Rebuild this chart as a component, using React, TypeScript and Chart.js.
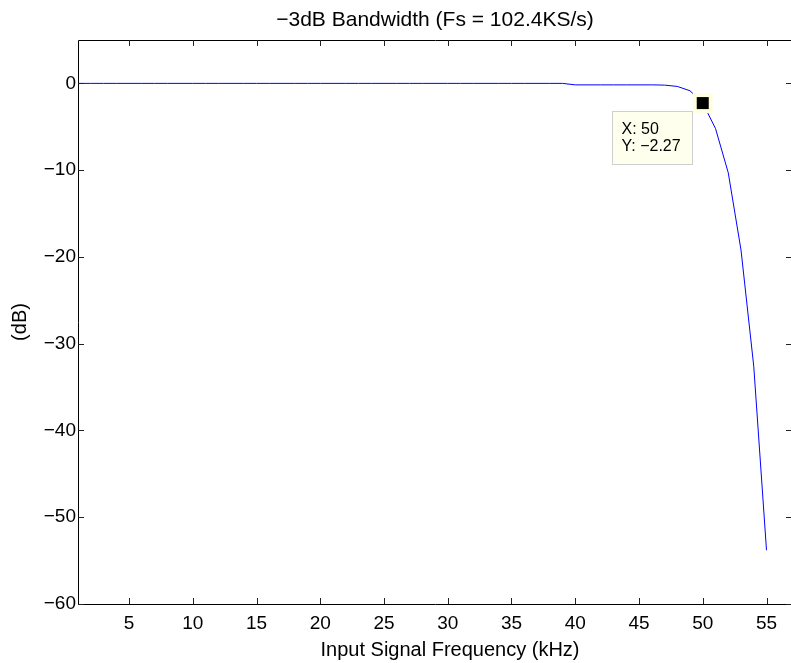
import React, { useEffect, useRef } from "react";
import { Chart, registerables } from "chart.js";

Chart.register(...registerables);

const FREQ_KHZ = [
  1, 2, 3, 4, 5, 6, 7, 8, 9, 10, 11, 12, 13, 14, 15, 16, 17, 18, 19, 20,
  21, 22, 23, 24, 25, 26, 27, 28, 29, 30, 31, 32, 33, 34, 35, 36, 37, 38, 39, 40,
  41, 42, 43, 44, 45, 46, 47, 48, 49, 50, 51, 52, 53, 54, 55,
];
const GAIN_DB = [
  0, 0, 0, 0, 0, 0, 0, 0, 0, 0, 0, 0, 0, 0, 0, 0, 0, 0, 0, 0,
  0, 0, 0, 0, 0, 0, 0, 0, 0, 0, 0, 0, 0, 0, 0, 0, 0, 0, 0, -0.17,
  -0.17, -0.17, -0.17, -0.17, -0.17, -0.17, -0.2, -0.35, -0.85, -2.27, -5.2, -10.3, -19.2, -32.6, -53.8,
];
const X_TICKS = [5, 10, 15, 20, 25, 30, 35, 40, 45, 50, 55];
const Y_TICKS = [-60, -50, -40, -30, -20, -10, 0];
const X_RANGE = [1, 57];
const Y_RANGE = [-60, 5];
const DATATIP_X = 50;
const DATATIP_Y = -2.27;
const TITLE = "\u22123dB Bandwidth (Fs = 102.4KS/s)";
const X_LABEL = "Input Signal Frequency (kHz)";
const Y_LABEL = "(dB)";

const FONT = "'Liberation Sans', Arial, Helvetica, sans-serif";
const fmt = (v: number) => (v < 0 ? "\u2212" + Math.abs(v) : String(v));

const framePlugin = {
  id: "frame",
  afterDatasetsDraw(chart: any) {
    const { ctx, chartArea, scales } = chart;
    const { left, right, top, bottom } = chartArea;
    const xs = scales.x;
    const ys = scales.y;
    ctx.save();
    ctx.strokeStyle = "#000";
    ctx.lineWidth = 1;
    ctx.beginPath();
    ctx.rect(Math.round(left) + 0.5, Math.round(top) + 0.5, Math.round(right - left), Math.round(bottom - top));
    ctx.stroke();
    const TL = 6;
    ctx.strokeStyle = "#222";
    ctx.beginPath();
    X_TICKS.forEach((v) => {
      const px = Math.round(xs.getPixelForValue(v)) + 0.5;
      ctx.moveTo(px, bottom);
      ctx.lineTo(px, bottom - TL);
      ctx.moveTo(px, top);
      ctx.lineTo(px, top + TL);
    });
    Y_TICKS.forEach((v) => {
      const py = Math.round(ys.getPixelForValue(v)) + 0.5;
      ctx.moveTo(left, py);
      ctx.lineTo(left + TL, py);
      ctx.moveTo(right, py);
      ctx.lineTo(right - TL, py);
    });
    ctx.stroke();

    // title, centred over the axes
    ctx.fillStyle = "#000";
    ctx.font = "21px " + FONT;
    ctx.textAlign = "center";
    ctx.textBaseline = "middle";
    ctx.fillText(TITLE, (left + right) / 2, 20);

    // x-axis label
    ctx.font = "20px " + FONT;
    ctx.fillText(X_LABEL, (left + right) / 2 + 15, bottom + 46);

    // data tip marker
    const mx = xs.getPixelForValue(DATATIP_X);
    const my = ys.getPixelForValue(DATATIP_Y);
    ctx.fillStyle = "#FFFFE0";
    ctx.fillRect(mx - 10, my - 10, 20, 20);
    ctx.fillStyle = "#000";
    ctx.fillRect(mx - 6, my - 6, 12, 12);

    // data tip box
    const bx = Math.round(mx - 91) + 0.5;
    const by = Math.round(my + 8) + 0.5;
    ctx.fillStyle = "#FFFFEE";
    ctx.fillRect(bx, by, 80, 53);
    ctx.strokeStyle = "#CFCFCF";
    ctx.strokeRect(bx, by, 80, 53);
    ctx.fillStyle = "#000";
    ctx.font = "16px " + FONT;
    ctx.textBaseline = "middle";
    ctx.textAlign = "left";
    ctx.fillText("X: " + DATATIP_X, bx + 9, by + 18);
    ctx.fillText("Y: " + fmt(DATATIP_Y), bx + 9, by + 35);
    ctx.restore();
  },
};

export default function App() {
  const ref = useRef<HTMLCanvasElement | null>(null);
  useEffect(() => {
    document.body.style.margin = "0";
    document.body.style.overflow = "hidden";
    const canvas = ref.current!;
    const chart = new Chart(canvas, {
      type: "line",
      data: {
        datasets: [
          {
            data: FREQ_KHZ.map((f, i) => ({ x: f, y: GAIN_DB[i] })),
            borderColor: "#0000FF",
            borderWidth: 1,
            pointRadius: 0,
            tension: 0,
            fill: false,
          },
        ],
      },
      options: {
        animation: false,
        responsive: false,
        devicePixelRatio: 1,
        layout: { padding: { left: 0, right: 8, top: 40, bottom: 0 } },
        plugins: {
          legend: { display: false },
          tooltip: { enabled: false },
          title: { display: false },
        },
        scales: {
          x: {
            type: "linear",
            min: X_RANGE[0],
            max: X_RANGE[1],
            grid: { display: false, drawTicks: false },
            border: { display: false },
            afterBuildTicks: (s: any) => {
              s.ticks = X_TICKS.map((v) => ({ value: v }));
            },
            afterFit: (s: any) => {
              s.height = 59;
            },
            ticks: {
              autoSkip: false,
              maxRotation: 0,
              padding: 8,
              color: "#000",
              font: { family: FONT, size: 19 },
              callback: (v: any) => fmt(Number(v)),
            },
            title: { display: false },
          },
          y: {
            type: "linear",
            min: Y_RANGE[0],
            max: Y_RANGE[1],
            grid: { display: false, drawTicks: false },
            border: { display: false },
            afterBuildTicks: (s: any) => {
              s.ticks = Y_TICKS.map((v) => ({ value: v }));
            },
            afterFit: (s: any) => {
              s.width = 78;
            },
            ticks: {
              autoSkip: false,
              padding: 2,
              color: "#000",
              font: { family: FONT, size: 19 },
              callback: (v: any) => fmt(Number(v)),
            },
            title: {
              display: true,
              text: Y_LABEL,
              color: "#000",
              font: { family: FONT, size: 20 },
              padding: { top: 8, bottom: 0 },
            },
          },
        },
      },
      plugins: [framePlugin],
    } as any);
    return () => chart.destroy();
  }, []);
  return (
    <div style={{ position: "fixed", left: 0, top: 0, width: 791, height: 663, overflow: "hidden", background: "#fff" }}>
      <canvas ref={ref} width={800} height={663} style={{ display: "block", width: 800, height: 663 }} />
    </div>
  );
}
